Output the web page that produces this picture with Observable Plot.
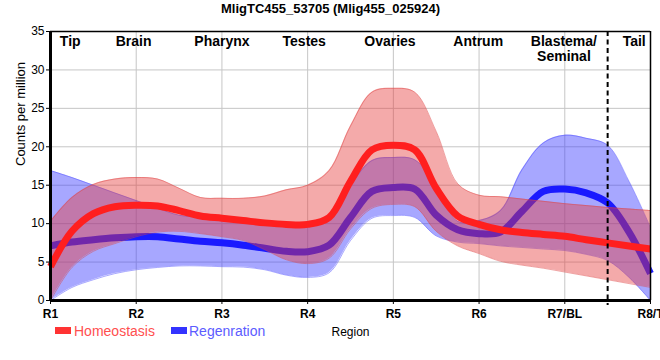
<!DOCTYPE html>
<html><head><meta charset="utf-8">
<script src="https://cdn.jsdelivr.net/npm/d3@7"></script>
<script src="https://cdn.jsdelivr.net/npm/@observablehq/plot@0.6"></script>
<style>html,body{margin:0;padding:0;background:#fff}</style>
</head><body><div id="chart"></div>
<script>
const title = "MligTC455_53705 (Mlig455_025924)";
const xLabels = ["R1","R2","R3","R4","R5","R6","R7/BL","R8/T"];
const regionNames = ["Tip","Brain","Pharynx","Testes","Ovaries","Antrum","Blastema/\nSeminal","Tail"];
const regionAt = [0.23,0.97,2.0,2.96,3.96,4.99,5.99,6.81];
const boundaryAt = [6.5];
const seriesNames = ["Homeostasis","Regenration"];
const yLabel = "Counts per million";
const xLabel = "Region";

// sample positions along the region axis (R1 = 0 ... R8/T = 7)
const xs = [0,0.25,0.5,0.75,1,1.25,1.5,1.75,2,2.25,2.5,2.75,3,3.25,3.5,3.75,4,4.25,4.5,4.75,5,5.25,5.5,5.75,6,6.25,6.5,6.75,7];

const homeoMean  = [4.4,9.0,11.3,12.2,12.4,12.3,11.7,11.0,10.7,10.4,10.1,9.9,9.9,10.8,15.5,19.6,20.2,19.6,14.6,11.0,9.9,9.2,8.85,8.6,8.35,7.9,7.5,7.1,6.7];
const homeoUpper = [10.3,13.4,15.1,15.8,16.0,15.8,14.6,13.4,13.3,13.3,13.6,14.4,15.0,16.9,22.7,27.1,27.6,27.1,22.0,15.2,13.7,13.5,13.2,12.9,12.6,12.35,12.1,11.9,11.7];
const homeoLower = [0,4.3,6.4,7.4,8.3,8.9,9.0,8.7,8.3,7.8,6.6,5.3,4.8,5.5,9.3,12.0,12.5,12.2,9.0,7.1,6.1,5.1,4.6,4.2,3.7,3.2,2.7,2.2,1.7];

const regenMean  = [7.1,7.6,7.9,8.15,8.3,8.3,8.0,7.7,7.5,7.2,6.8,6.4,6.35,7.2,10.8,14.2,14.7,14.5,11.1,9.2,8.7,8.9,11.6,14.2,14.5,14.0,12.7,8.9,3.5];
const regenUpper = [16.9,16.0,15.0,14.0,13.0,12.0,11.1,10.8,10.4,10.2,10.0,9.7,9.6,10.8,15.0,18.2,18.6,18.3,14.8,10.3,10.4,11.7,17.0,20.5,21.5,21.1,20.2,15.5,9.5];
const regenLower = [0,1.7,2.7,3.5,4.0,4.3,4.5,4.5,4.4,4.35,4.0,3.3,3.0,3.6,7.8,10.7,11.05,10.8,8.4,7.6,7.4,7.1,6.9,6.7,6.5,6.0,5.2,3.0,0];

const FONT = "Liberation Sans, Arial, sans-serif";
const homeo = xs.map((x,i)=>({x, mean:homeoMean[i], lo:homeoLower[i], hi:homeoUpper[i]}));
const regen = xs.map((x,i)=>({x, mean:regenMean[i], lo:regenLower[i], hi:regenUpper[i]}));
const curve = "catmull-rom";
const legendColors = ["#ff3333","#3333ff"];
const legendText = ["#ff4f4f","#5c5cff"];

function legend(index, scales, values, dims) {
  const g = d3.create("svg:g").attr("font-family", FONT).attr("font-size", 14).attr("text-anchor","start");
  const pos = [{sx:55, tx:74},{sx:171, tx:189}];
  seriesNames.forEach((name,i)=>{
    g.append("rect").attr("x",pos[i].sx).attr("y",327).attr("width",16).attr("height",7).attr("fill",legendColors[i]);
    g.append("text").attr("x",pos[i].tx).attr("y",331).attr("dy","0.35em").attr("text-anchor","start").attr("fill",legendText[i]).text(name);
  });
  return g.node();
}

const chart = Plot.plot({
  width: 660, height: 360,
  marginLeft: 50, marginRight: 10, marginTop: 31, marginBottom: 60,
  style: {fontFamily: FONT, fontSize: "12px", background: "#fff"},
  x: {domain: [0,7]},
  y: {domain: [0,35]},
  marks: [
    Plot.gridX({ticks:[1,2,3,4,5,6], stroke:"#c6c6c6", strokeOpacity:1}),
    Plot.gridY({ticks:[5,10,15,20,25,30], stroke:"#c6c6c6", strokeOpacity:1}),
    Plot.areaY(regen, {x:"x", y1:"lo", y2:"hi", fill:"#3c3cff", fillOpacity:0.45, curve}),
    Plot.line(regen, {x:"x", y:"hi", stroke:"#4a4aff", strokeWidth:0.8, strokeOpacity:0.6, curve}),
    Plot.line(regen, {x:"x", y:"lo", stroke:"#4a4aff", strokeWidth:0.8, strokeOpacity:0.6, curve}),
    Plot.line(regen, {x:"x", y:"mean", stroke:"#1a1aff", strokeWidth:7, strokeLinecap:"butt", curve}),
    Plot.areaY(homeo, {x:"x", y1:"lo", y2:"hi", fill:"#e53939", fillOpacity:0.43, curve}),
    Plot.line(homeo, {x:"x", y:"hi", stroke:"#dd4444", strokeWidth:0.8, strokeOpacity:0.6, curve}),
    Plot.line(homeo, {x:"x", y:"lo", stroke:"#dd4444", strokeWidth:0.8, strokeOpacity:0.6, curve}),
    Plot.line(homeo, {x:"x", y:"mean", stroke:"#ff1f1f", strokeWidth:7, strokeLinecap:"butt", curve}),
    Plot.ruleX(boundaryAt, {stroke:"#000", strokeWidth:2, strokeDasharray:"5,3.5", insetBottom:-5}),
    Plot.ruleY([35], {stroke:"#000", strokeWidth:1.5}),
    Plot.ruleX([7], {stroke:"#000", strokeWidth:1.5}),
    Plot.ruleX([0], {stroke:"#000", strokeWidth:3}),
    Plot.ruleY([0], {stroke:"#000", strokeWidth:3}),
    Plot.axisX({ticks:[0,1,2,3,4,5,6,7], tickFormat:i=>xLabels[i], fontWeight:"bold", fontSize:12, tickSize:4, tickPadding:5, label:null}),
    Plot.axisY({ticks:[0,5,10,15,20,25,30,35], tickSize:4, tickPadding:2, fontSize:12, label:null}),
    Plot.text(regionNames, {x:(d,i)=>regionAt[i], text:d=>d, frameAnchor:"top", lineAnchor:"top", dy:4, fontWeight:"bold", fontSize:14, lineHeight:1.07}),
    Plot.text([title], {text:d=>d, frameAnchor:"top", lineAnchor:"middle", dx:-20, dy:-23, fontWeight:"bold", fontSize:13}),
    Plot.text([yLabel], {text:d=>d, frameAnchor:"left", lineAnchor:"middle", dx:-30, rotate:-90, fontSize:13}),
    Plot.text([xLabel], {text:d=>d, frameAnchor:"bottom", lineAnchor:"middle", dy:32, fontSize:12}),
    legend
  ]
});
document.getElementById("chart").append(chart);
</script>
</body></html>
